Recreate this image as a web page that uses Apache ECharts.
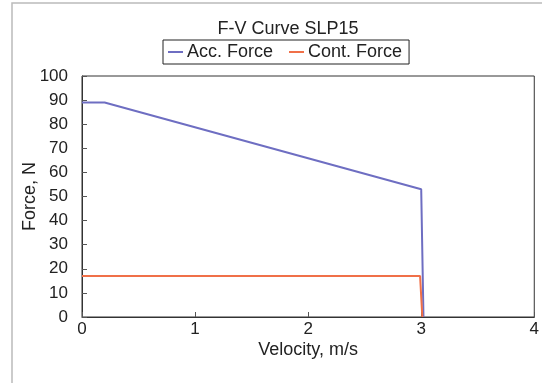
<!DOCTYPE html>
<html><head><meta charset="utf-8">
<script src="https://cdn.jsdelivr.net/npm/echarts@6/dist/echarts.min.js"></script>
<style>html,body{margin:0;padding:0;background:#fff}#c{width:542px;height:383px}</style>
</head><body><div id="c"></div>
<script>
const accVelocity = [0, 0.2, 3.0, 3.02];
const accForce = [89, 89, 53, 0];
const contVelocity = [0, 2.99, 3.01];
const contForce = [17, 17, 0];
const seriesNames = ['Acc. Force', 'Cont. Force'];
const titleText = 'F-V Curve SLP15';

const chart = echarts.init(document.getElementById('c'));
const font = 'Liberation Sans, Arial, sans-serif';
chart.setOption({
  animation: false,
  backgroundColor: '#fff',
  graphic: [{type:'rect', shape:{x:12, y:3, width:540, height:400}, style:{fill:'none', stroke:'#bbb', lineWidth:1.5}, z:-1}],
  title: {text: titleText, left: 283, textAlign: 'center', top: 15,
    textStyle: {fontFamily: font, fontSize: 18, fontWeight: 'normal', color: '#222'}},
  legend: {data: seriesNames, left: 163, top: 40, padding: [3,7,3,5], itemGap: 16,
    borderColor: '#222', borderWidth: 1, icon: 'rect', itemWidth: 15, itemHeight: 2,
    textStyle: {fontFamily: font, fontSize: 18, color: '#222', padding: [0,0,0,-1]}},
  grid: {left: 82, right: 4, top: 76, bottom: 66, show: true, borderColor: '#333', borderWidth: 1},
  xAxis: {type: 'value', min: 0, max: 4, interval: 1, name: 'Velocity, m/s', nameLocation: 'middle', nameGap: 24,
    nameMoveOverlap: false,
    nameTextStyle: {fontFamily: font, fontSize: 18, color: '#222'},
    axisLine: {lineStyle: {color: '#333'}}, axisTick: {inside: true, length: 5, lineStyle:{color:'#555'}},
    axisLabel: {fontFamily: font, fontSize: 17, color: '#222', margin: 4}, splitLine: {show: false}},
  yAxis: {type: 'value', min: 0, max: 100, interval: 10, name: 'Force, N', nameLocation: 'middle', nameGap: 43,
    nameMoveOverlap: false,
    nameTextStyle: {fontFamily: font, fontSize: 18, color: '#222'},
    axisLine: {show: true, lineStyle: {color: '#333'}}, axisTick: {show: true, inside: true, length: 5, lineStyle:{color:'#555'}},
    axisLabel: {fontFamily: font, fontSize: 17, color: '#222', margin: 14}, splitLine: {show: false}},
  series: [
    {name: seriesNames[0], type: 'line', showSymbol: false, symbol: 'none', color: '#6e6ec2',
      lineStyle: {width: 2}, data: accVelocity.map((v,i)=>[v, accForce[i]])},
    {name: seriesNames[1], type: 'line', showSymbol: false, symbol: 'none', color: '#f07048',
      lineStyle: {width: 2}, data: contVelocity.map((v,i)=>[v, contForce[i]])}
  ]
});
</script></body></html>
